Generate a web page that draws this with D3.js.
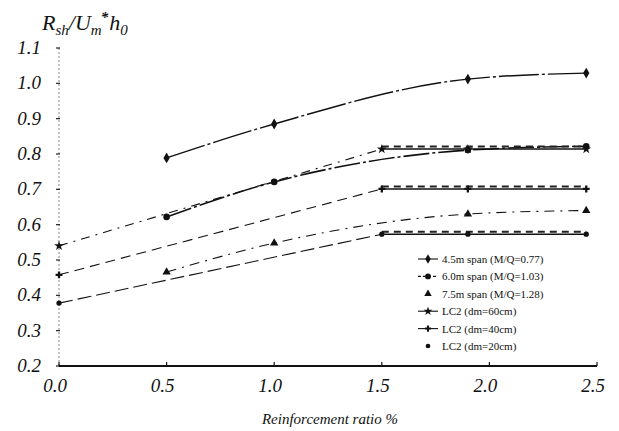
<!DOCTYPE html>
<html>
<head>
<meta charset="utf-8">
<script src="https://cdn.jsdelivr.net/npm/d3@7"></script>
<style>
  body { margin: 0; background: #fff; }
  svg text { font-family: "Liberation Serif", "DejaVu Serif", serif; fill: #111; }
</style>
</head>
<body>
<div id="chart"></div>
<script>
// data
const xTicks = [0.0, 0.5, 1.0, 1.5, 2.0, 2.5];
const yTicks = [0.2, 0.3, 0.4, 0.5, 0.6, 0.7, 0.8, 0.9, 1.0, 1.1];

const spanX = [0.5, 1.0, 1.9, 2.45];
const span45 = [0.789, 0.885, 1.012, 1.029];
const span60 = [0.622, 0.721, 0.811, 0.822];
const span75 = [0.466, 0.548, 0.630, 0.640];

const lc2X = [0.0, 1.5, 1.9, 2.45];
const lc2dm60 = [0.540, 0.814, 0.814, 0.814];
const lc2dm40 = [0.458, 0.701, 0.701, 0.701];
const lc2dm20 = [0.378, 0.573, 0.573, 0.573];

const legendLabels = [
  "4.5m span (M/Q=0.77)",
  "6.0m span (M/Q=1.03)",
  "7.5m span (M/Q=1.28)",
  "LC2 (dm=60cm)",
  "LC2 (dm=40cm)",
  "LC2 (dm=20cm)"
];

const width = 619, height = 431;

const svg = d3.select("#chart").append("svg")
  .attr("width", width)
  .attr("height", height);

const x = d3.scaleLinear().domain([0, 2.5]).range([59, 597]);
const y = d3.scaleLinear().domain([0.2, 1.1]).range([366, 48]);

// y axis (faint dotted line with small ticks)
svg.append("line")
  .attr("x1", x(0)).attr("x2", x(0))
  .attr("y1", y(1.1)).attr("y2", y(0.2))
  .attr("stroke", "#888").attr("stroke-width", 1)
  .attr("stroke-dasharray", "2,2");

svg.selectAll(".ytick")
  .data(yTicks)
  .enter().append("line")
  .attr("x1", x(0) - 3).attr("x2", x(0) + 1)
  .attr("y1", d => y(d)).attr("y2", d => y(d))
  .attr("stroke", "#222").attr("stroke-width", 1.2);

svg.selectAll(".ylab")
  .data(yTicks)
  .enter().append("text")
  .attr("x", 41)
  .attr("y", d => y(d) + 6)
  .attr("text-anchor", "end")
  .style("font-size", "19px")
  .style("font-style", "italic")
  .text(d => d3.format(".1f")(d));

// x axis
svg.append("line")
  .attr("x1", x(0)).attr("x2", x(2.5))
  .attr("y1", y(0.2)).attr("y2", y(0.2))
  .attr("stroke", "#111").attr("stroke-width", 2);

svg.selectAll(".xtick")
  .data(xTicks)
  .enter().append("line")
  .attr("x1", d => x(d)).attr("x2", d => x(d))
  .attr("y1", y(0.2)).attr("y2", y(0.2) - 4)
  .attr("stroke", "#111").attr("stroke-width", 1.2);

svg.selectAll(".xlab")
  .data(xTicks)
  .enter().append("text")
  .attr("x", d => x(d) - 4)
  .attr("y", 392)
  .attr("text-anchor", "middle")
  .style("font-size", "19px")
  .style("font-style", "italic")
  .text(d => d3.format(".1f")(d));

// axis titles
svg.append("text")
  .attr("x", 330).attr("y", 424)
  .attr("text-anchor", "middle")
  .style("font-size", "15px")
  .style("font-style", "italic")
  .text("Reinforcement ratio %");

// y title: R_sh / U_m* h_0, all in one text element
const title = svg.append("text")
  .attr("x", 42).attr("y", 30)
  .style("font-size", "22px")
  .style("font-style", "italic");
title.append("tspan").text("R");
title.append("tspan").attr("dy", 5).style("font-size", "15px").text("sh");
title.append("tspan").attr("dy", -5).text("/U");
title.append("tspan").attr("dy", 5).style("font-size", "15px").text("m");
title.append("tspan").attr("dy", -13).attr("dx", -1).style("font-size", "15px").style("font-weight", "bold").text("*");
title.append("tspan").attr("dy", 8).attr("dx", 1).text("h");
title.append("tspan").attr("dy", 5).style("font-size", "15px").text("0");

// series
const series = [
  { name: legendLabels[0], xs: spanX, ys: span45, dash: "40,3,3,3", w: 1.4, symbol: d3.symbolDiamond, size: 34, curve: d3.curveMonotoneX },
  { name: legendLabels[1], xs: spanX, ys: span60, dash: "26,3,3,3", w: 1.6, symbol: d3.symbolCircle, size: 34, curve: d3.curveMonotoneX },
  { name: legendLabels[2], xs: spanX, ys: span75, dash: "10,6,2,6", w: 1.1, symbol: d3.symbolTriangle, size: 30, curve: d3.curveMonotoneX },
  { name: legendLabels[3], xs: lc2X, ys: lc2dm60, dash: "9,6,2,6", w: 1.1, symbol: d3.symbolStar, size: 30, curve: d3.curveLinear, plateau: true },
  { name: legendLabels[4], xs: lc2X, ys: lc2dm40, dash: "10,6", w: 1.1, symbol: d3.symbolCross, size: 26, curve: d3.curveLinear, plateau: true },
  { name: legendLabels[5], xs: lc2X, ys: lc2dm20, dash: "14,5", w: 1.1, symbol: d3.symbolCircle, size: 22, curve: d3.curveLinear, plateau: true }
];

series.forEach(s => {
  const pts = s.xs.map((v, i) => [v, s.ys[i]]);
  const line = d3.line().x(d => x(d[0])).y(d => y(d[1])).curve(s.curve);

  if (s.plateau) {
    // rising part, dashed
    svg.append("path")
      .attr("d", line(pts.slice(0, 2)))
      .attr("fill", "none").attr("stroke", "#111")
      .attr("stroke-width", s.w).attr("stroke-dasharray", s.dash);
    // flat part drawn solid with a heavy dashed double line
    svg.append("path")
      .attr("d", line(pts.slice(1)))
      .attr("fill", "none").attr("stroke", "#111")
      .attr("stroke-width", 1.4);
    svg.append("path")
      .attr("d", line(pts.slice(1)))
      .attr("transform", "translate(0,-2.5)")
      .attr("fill", "none").attr("stroke", "#222")
      .attr("stroke-width", 2).attr("stroke-dasharray", "7,5");
  } else {
    svg.append("path")
      .attr("d", line(pts))
      .attr("fill", "none").attr("stroke", "#111")
      .attr("stroke-width", s.w).attr("stroke-dasharray", s.dash);
  }

  svg.selectAll(null)
    .data(pts)
    .enter().append("path")
    .attr("d", d3.symbol().type(s.symbol).size(s.size))
    .attr("transform", d => `translate(${x(d[0])},${y(d[1])})`)
    .attr("fill", "#111");
});

// legend
const legend = svg.append("g").attr("transform", "translate(418,259)");
const rowH = 17.4;
series.forEach((s, i) => {
  const g = legend.append("g").attr("transform", `translate(0,${i * rowH})`);
  if (i !== 2 && i !== 5) {
    g.append("line")
      .attr("x1", 0).attr("x2", 20).attr("y1", 0).attr("y2", 0)
      .attr("stroke", "#111").attr("stroke-width", 1.1)
      .attr("stroke-dasharray", i === 1 ? "3,2" : null);
  }
  g.append("path")
    .attr("d", d3.symbol().type(s.symbol).size(s.size * 0.8))
    .attr("transform", "translate(10,0)")
    .attr("fill", "#111");
  g.append("text")
    .attr("x", 24).attr("y", 4)
    .style("font-size", "11px")
    .text(s.name);
});
</script>
</body>
</html>
